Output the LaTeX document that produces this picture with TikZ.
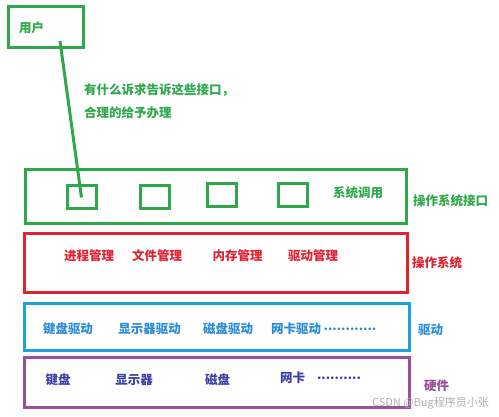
\documentclass[tikz,border=0pt]{standalone}
\usepackage{fontspec}
\setmainfont{Noto Sans CJK SC}
\usepackage{xcolor}
\usepackage{tikz}
\usetikzlibrary{positioning,calc}
\definecolor{gline}{HTML}{2EA84A}
\definecolor{rline}{HTML}{E0222E}
\definecolor{bline}{HTML}{1BA1DE}
\definecolor{btext}{HTML}{2A8BD6}
\definecolor{pline}{HTML}{9B4D9E}
\definecolor{ptext}{HTML}{3C3FA6}
\definecolor{mark}{HTML}{B0B0B0}

\begin{document}
\begin{tikzpicture}[
  x=1pt, y=-1pt,
  layer/.style={draw, line width=3pt, anchor=north west, inner sep=0pt},
  slot/.style={draw=gline, line width=3pt, minimum width=29pt, minimum height=23pt, inner sep=0pt},
  lbl/.style={font=\fontsize{12.5}{15}\selectfont\bfseries, inner sep=0pt}
]
  \useasboundingbox (0,0) rectangle (499,417);

  % User
  \node[layer, draw=gline, minimum width=75pt, minimum height=41pt] (user) at (7,5) {};
  \node[lbl, text=gline, anchor=west] (userlbl) at (19,28) {用户};
  \node[lbl, text=gline, anchor=west] (note1) at (84,90) {有什么诉求告诉这些接口，};
  \node[lbl, text=gline, anchor=west] (note2) at (84,113) {合理的给予办理};

  % Interface layer
  \node[layer, draw=gline, minimum width=381pt, minimum height=54pt] (api) at (24,168) {};
  \node[slot] (s1) at (81.5,197.5) {};
  \node[slot] (s2) at (155,197.5) {};
  \node[slot] (s3) at (221.5,195.5) {};
  \node[slot] (s4) at (292.5,195.5) {};
  \node[lbl, text=gline] (syscall) at (358,193) {系统调用};
  \node[lbl, text=gline, anchor=west] (apiname) at (413,201) {操作系统接口};

  % OS layer
  \node[layer, draw=rline, minimum width=383pt, minimum height=59pt] (os) at (23,232) {};
  \node[lbl, text=rline] (proc) at (89,256) {进程管理};
  \node[lbl, text=rline] (file) at (157,256) {文件管理};
  \node[lbl, text=rline] (mem) at (237.5,256) {内存管理};
  \node[lbl, text=rline] (drvm) at (313,256) {驱动管理};
  \node[lbl, text=rline, anchor=west] (osname) at (412,263) {操作系统};

  % Driver layer
  \node[layer, draw=bline, minimum width=385pt, minimum height=47pt] (drv) at (23,302) {};
  \node[lbl, text=btext] (kbd) at (68,329) {键盘驱动};
  \node[lbl, text=btext] (disp) at (149.5,329) {显示器驱动};
  \node[lbl, text=btext] (disk) at (228,329) {磁盘驱动};
  \node[lbl, text=btext] (nic) at (296,329) {网卡驱动};
  \node[lbl, text=btext] (dots1) at (350,329) {............};
  \node[lbl, text=btext, anchor=west] (drvname) at (418,330) {驱动};

  % Hardware layer
  \node[layer, draw=pline, minimum width=385pt, minimum height=50pt] (hw) at (23,356) {};
  \node[lbl, text=ptext] (hkbd) at (58,380) {键盘};
  \node[lbl, text=ptext] (hdisp) at (134,380) {显示器};
  \node[lbl, text=ptext] (hdisk) at (217.5,380) {磁盘};
  \node[lbl, text=ptext] (hnic) at (292.5,378) {网卡};
  \node[lbl, text=ptext] (dots2) at (339,378) {..........};
  \node[lbl, text=pline, anchor=west] (hwname) at (424,386) {硬件};

  % Call line
  \coordinate (from) at (60,41);
  \draw[gline, line width=3pt] (from) -- (s1.center);

  \node[text=mark, font=\fontsize{11}{13}\selectfont, anchor=east, inner sep=0pt] (wm) at (489,403) {CSDN @Bug程序员小张};
\end{tikzpicture}
\end{document}
